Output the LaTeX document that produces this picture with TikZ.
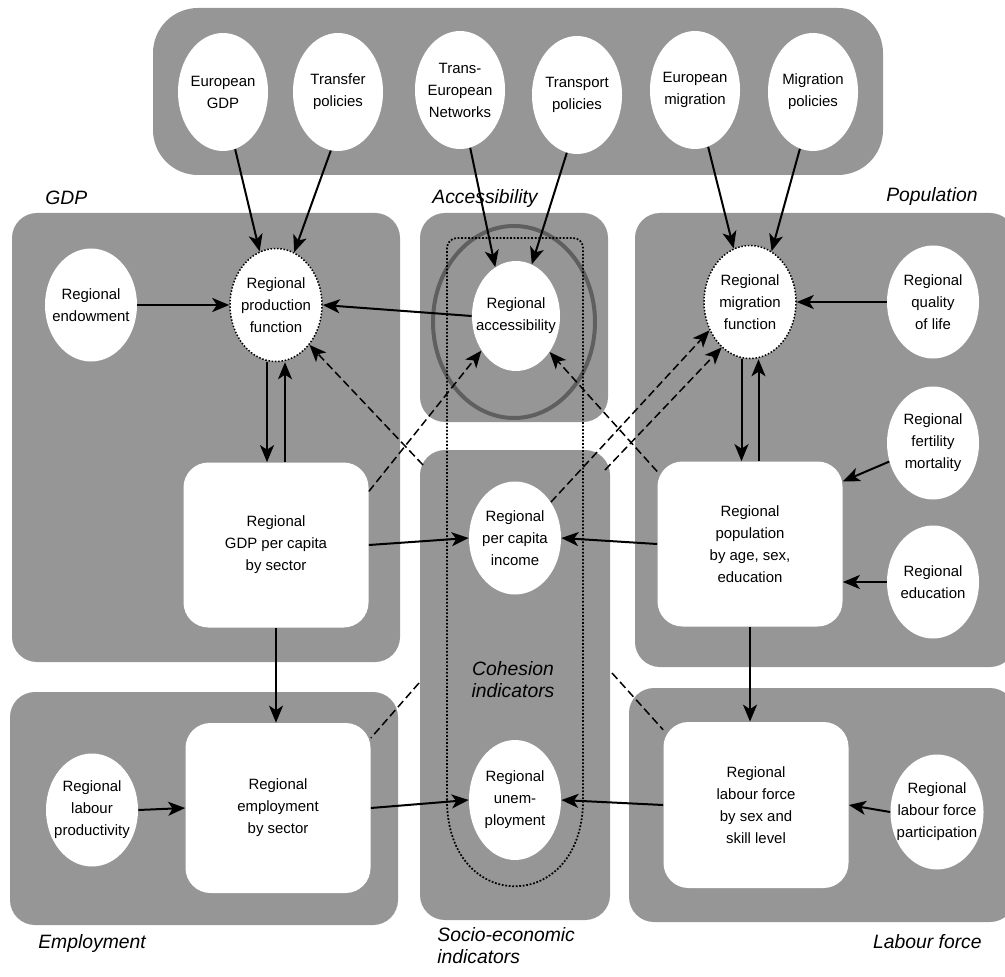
\documentclass[tikz,border=0pt]{standalone}
\usepackage{fontspec}
\setmainfont{Liberation Sans}
\usetikzlibrary{shapes.geometric,arrows.meta}
\definecolor{panelgray}{RGB}{150,150,150}
\definecolor{ringgray}{RGB}{95,95,95}
\tikzset{
  panel/.style={fill=panelgray, rounded corners=5mm},
  bubble/.style={ellipse, fill=white, inner xsep=-3mm, inner ysep=0mm, minimum width=18.4mm, minimum height=22.6mm, align=center, font=\fontsize{8.5}{12.5}\selectfont},
  fnbubble/.style={bubble, draw, densely dotted, line width=0.3mm},
  stockbox/.style={rectangle, fill=white, rounded corners=5mm, minimum width=37mm, minimum height=33mm, align=center, font=\fontsize{8.5}{12.5}\selectfont},
  grouplabel/.style={font=\fontsize{11}{12.5}\selectfont\itshape, inner sep=0pt},
  link/.style={-{Stealth[length=3.4mm,width=2.8mm,inset=0.9mm]}, line width=0.4mm},
  feedback/.style={link, dash pattern=on 1.6mm off 0.8mm, line width=0.3mm},
  plainfb/.style={dash pattern=on 1.6mm off 0.8mm, line width=0.3mm}
}
\begin{document}
\begin{tikzpicture}[x=0.2mm, y=-0.2mm]
\useasboundingbox (0,0) rectangle (1005,976);
\fill[panel, rounded corners=9mm] (153,8) rectangle (883,175);
\fill[panel] (12,213) rectangle (400,662);
\fill[panel] (420,213) rectangle (608,422);
\fill[panel] (635,213) rectangle (1015,667);
\fill[panel] (420,450) rectangle (610,920);
\fill[panel] (10,692) rectangle (398,925);
\fill[panel] (629,688) rectangle (1015,922);

\node[bubble, minimum width=18mm, minimum height=23.6mm] (t1) at (223,92) {European\\GDP};
\node[bubble, minimum width=18mm, minimum height=23.6mm] (t2) at (338,92) {Transfer\\policies};
\node[bubble, minimum width=18mm, minimum height=23.6mm] (t3) at (460,90) {Trans-\\European\\Networks};
\node[bubble, minimum width=18mm, minimum height=23.6mm] (t4) at (577,95) {Transport\\policies};
\node[bubble, minimum width=18mm, minimum height=23.6mm] (t5) at (695,90) {European\\migration};
\node[bubble, minimum width=18mm, minimum height=23.6mm] (t6) at (813,92) {Migration\\policies};

\node[bubble] (g1) at (91,305) {Regional\\endowment};
\node[fnbubble] (g2) at (276,305) {Regional\\production\\function};
\node[stockbox] (g3) at (276,545) {Regional\\GDP per capita\\by sector};

\draw[ringgray, line width=0.8mm] (514,322) ellipse [x radius=16.2mm, y radius=19.2mm];
\node[bubble, minimum width=17.6mm, minimum height=22mm] (a1) at (516,316) {Regional\\accessibility};

\node[bubble] (s1) at (515,538) {Regional\\per capita\\income};
\node[bubble, minimum height=24mm] (s2) at (515,800) {Regional\\unem-\\ployment};

\node[fnbubble] (p1) at (750,302) {Regional\\migration\\function};
\node[bubble] (p2) at (933,302) {Regional\\quality\\of life};
\node[bubble] (p3) at (933,443) {Regional\\fertility\\mortality};
\node[bubble] (p4) at (933,582) {Regional\\education};
\node[stockbox] (p5) at (750,544) {Regional\\population\\by age, sex,\\education};

\node[bubble] (m1) at (92,810) {Regional\\labour\\productivity};
\node[stockbox, minimum height=34mm] (m2) at (278,808) {Regional\\employment\\by sector};

\node[stockbox, minimum height=33.2mm] (l1) at (756,805) {Regional\\labour force\\by sex and\\skill level};
\node[bubble, minimum width=18.6mm, minimum height=23mm] (l2) at (937,812) {Regional\\labour force\\participation};

\draw[densely dotted, line width=0.35mm] (447,800) [rounded corners=2mm] -- (447,238) -- (583,238) [sharp corners] -- (583,800) .. controls (583,915) and (447,915) .. cycle;

\node[grouplabel, anchor=west] (lgdp) at (45,198) {GDP};
\node[grouplabel] (lacc) at (485,199) {Accessibility};
\node[grouplabel, anchor=east] (lpop) at (978,197) {Population};
\node[grouplabel, align=center] (lcoh) at (513,680) {Cohesion\\indicators};
\node[grouplabel, anchor=west] (lemp) at (38,943) {Employment};
\node[grouplabel, anchor=north west, align=left] (lsoc) at (437,927) {Socio-economic\\indicators};
\node[grouplabel, anchor=east] (llab) at (982,942) {Labour force};

\coordinate (c1) at (423,465);
\coordinate (c2) at (605,470);
\coordinate (c3) at (419,683);
\coordinate (c4) at (612,673);

\draw[link] (t1.-78) -- (g2.107);
\draw[link] (t2.-97) -- (g2.71);
\draw[link] (t3.-80) -- (a1.113);
\draw[link] (t4.-100) -- (a1.73);
\draw[link] (t5.-77) -- (p1.107);
\draw[link] (t6.-103) -- (p1.67);

\draw[link] (g1.east) -- (g2.west);
\draw[link] (a1.west) -- (g2.east);
\draw[link] ([xshift=-1.8mm]g2.south) -- ([xshift=-1.8mm]g3.north);
\draw[link] ([xshift=1.8mm]g3.north) -- ([xshift=1.8mm]g2.south);
\draw[link] (g3.east) -- (s1.west);
\draw[link] (g3.south) -- (g3.south |- m2.north);
\draw[link] (m1.east) -- (m2.west);
\draw[link] (m2.east) -- (s2.west);

\draw[link] (p2.west) -- (p1.east);
\draw[link] ([xshift=-1.7mm]p1.south) -- ([xshift=-1.7mm]p5.north);
\draw[link] ([xshift=1.7mm]p5.north) -- ([xshift=1.7mm]p1.south);
\draw[link] (p3.203) -- (p5.34);
\draw[link] (p4.west) -- (p4.west -| p5.east);
\draw[link] (p5.west) -- (s1.east);
\draw[link] (p5.south) -- (p5.south |- l1.north);
\draw[link] (l2.west) -- (l1.east);
\draw[link] (l1.west) -- (s2.east);

\draw[feedback] (g3.30) -- (a1.225);
\draw[feedback] (c1) -- (g2.-50);
\draw[feedback] (p5.142) -- (a1.-47);
\draw[feedback] (s1.45) -- (p1.215);
\draw[feedback] (c2) -- (p1.238);
\draw[plainfb] (c3) -- (m2.37);
\draw[plainfb] (c4) -- (l1.141);
\end{tikzpicture}
\end{document}
